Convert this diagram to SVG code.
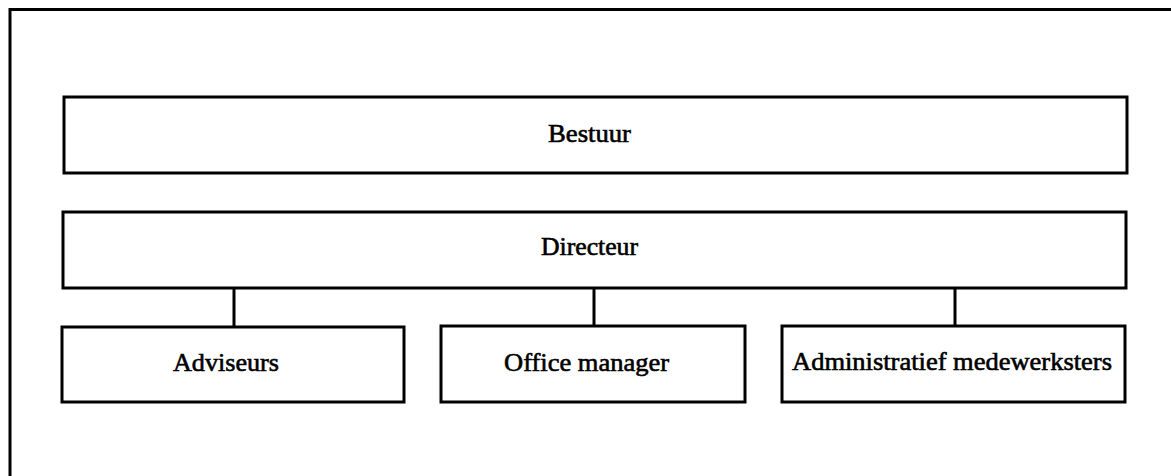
<svg xmlns="http://www.w3.org/2000/svg" width="1171" height="476" viewBox="0 0 1171 476">
<style>
.box{fill:#fff;stroke:#000;stroke-width:3}
.ln{fill:none;stroke:#000;stroke-width:3}
.t{font-family:"Liberation Serif","Times New Roman",serif;font-size:25px;fill:#000;stroke:#000;stroke-width:0.6}
</style>
<rect width="1171" height="476" fill="#fff"/>
<path class="ln" d="M10,480 V9.5 H1175"/>
<g id="connectors">
<line class="ln" x1="234" y1="288" x2="234" y2="326"/>
<line class="ln" x1="594" y1="288" x2="594" y2="326"/>
<line class="ln" x1="955" y1="288" x2="955" y2="326"/>
</g>
<g id="bestuur">
<rect class="box" x="64" y="97" width="1063" height="76"/>
<text class="t" x="548" y="142" textLength="83" lengthAdjust="spacingAndGlyphs">Bestuur</text>
</g>
<g id="directeur">
<rect class="box" x="63" y="212" width="1063" height="76"/>
<text class="t" x="541" y="255" textLength="97" lengthAdjust="spacingAndGlyphs">Directeur</text>
</g>
<g id="adviseurs">
<rect class="box" x="62" y="327" width="342" height="75"/>
<text class="t" x="173" y="371" textLength="106" lengthAdjust="spacingAndGlyphs">Adviseurs</text>
</g>
<g id="office-manager">
<rect class="box" x="441" y="326" width="304" height="76"/>
<text class="t" x="504" y="371" textLength="165" lengthAdjust="spacingAndGlyphs">Office manager</text>
</g>
<g id="administratief">
<rect class="box" x="782" y="326" width="343" height="76"/>
<text class="t" x="792" y="370" textLength="320" lengthAdjust="spacingAndGlyphs">Administratief medewerksters</text>
</g>
</svg>
